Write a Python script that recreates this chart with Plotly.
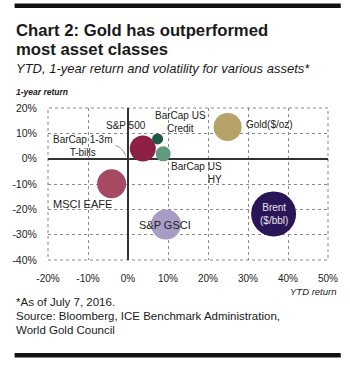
import plotly.graph_objects as go

assets = ["S&P 500", "BarCap 1-3m T-bills", "BarCap US Credit", "BarCap US HY",
          "MSCI EAFE", "S&P GSCI", "Gold($/oz)", "Brent ($/bbl)"]
ytd_return = [3.7, 0.3, 7.4, 8.8, -4.1, 9.5, 24.9, 36.4]
one_year_return = [4.0, 0.3, 7.8, 1.9, -9.9, -26.0, 12.5, -21.8]
volatility = [26, 1, 11, 15, 29, 30, 28, 45]
colors = ["#8E1F45", "#B0B0B0", "#1F5A45", "#5F9A7F", "#A54A60", "#A79CC6", "#B5A36A", "#2A1556"]

x_ticks = [-20, -10, 0, 10, 20, 30, 40, 50]
y_ticks = [20, 10, 0, -10, -20, -30, -40]

font = "Liberation Sans, Arial, sans-serif"

fig = go.Figure()
fig.add_trace(go.Scatter(
    x=ytd_return, y=one_year_return, mode="markers",
    marker=dict(size=volatility, sizemode="diameter", sizeref=1, color=colors,
                opacity=1, line=dict(width=0)),
    hoverinfo="text", text=assets, showlegend=False,
))

lab = dict(showarrow=False, font=dict(family=font, size=10, color="#222"))

fig.add_annotation(x=-0.5, y=13.2, text="S&P 500", xanchor="center", yanchor="middle", **lab)
fig.add_annotation(x=-11.3, y=5.0, text="BarCap 1-3m<br>T-bills", xanchor="center", yanchor="middle", **lab)
fig.add_annotation(x=13.1, y=14.6, text="BarCap US<br>Credit", xanchor="center", yanchor="middle", **lab)
fig.add_annotation(x=17.2, y=-5.6, text="BarCap US<br>HY", xanchor="center", yanchor="middle", align="right", **lab)
fig.add_annotation(x=29.0, y=13.6, text="Gold($/oz)", xanchor="left", yanchor="middle", **lab)
fig.add_annotation(x=-11.3, y=-17.8, text="MSCI EAFE", xanchor="center", yanchor="middle",
                   showarrow=False, font=dict(family=font, size=11, color="#222"))
fig.add_annotation(x=9.3, y=-26.3, text="S&P GSCI", xanchor="center", yanchor="middle",
                   showarrow=False, font=dict(family=font, size=11, color="#222"))
fig.add_annotation(x=36.4, y=-21.8, text="Brent<br>($/bbl)", xanchor="center", yanchor="middle",
                   showarrow=False, font=dict(family=font, size=10, color="#E8E4F0"))

# leader line for T-bills label
fig.add_shape(type="path", path="M -3.2,5.2 Q -1.5,4.8 -0.6,1.2", xref="x", yref="y",
              line=dict(color="#999", width=1))

# dotted border
fig.add_shape(type="rect", x0=0, x1=1, y0=0, y1=1, xref="paper", yref="paper",
              line=dict(color="#888", width=1, dash="dot"), layer="below")

px_w, px_h = 350, 367
l, r, t, b = 44, 21, 108, 107
pw, ph = px_w - l - r, px_h - t - b
def px(xp): return (xp - l) / pw
def py(yp): return (px_h - b - yp) / ph

# top and bottom rules
for y0, y1 in [(3.5, 8), (353, 357.5)]:
    fig.add_shape(type="rect", x0=px(10), x1=px(342), y0=py(y1), y1=py(y0), xref="paper", yref="paper",
                  fillcolor="#111", line=dict(width=0))

fig.update_layout(
    width=350, height=367,
    margin=dict(l=l, r=r, t=t, b=b),
    paper_bgcolor="white", plot_bgcolor="white",
    font=dict(family=font, size=10, color="#222"),
    xaxis=dict(range=[-20, 50], tickvals=x_ticks, ticktext=[f"{v}%" for v in x_ticks],
               showgrid=True, gridcolor="#8a8a8a", griddash="dot", gridwidth=1,
               zeroline=True, zerolinecolor="#333", zerolinewidth=1.5,
               ticks="outside", ticklen=9, tickcolor="rgba(0,0,0,0)",
               tickfont=dict(size=10), fixedrange=True),
    yaxis=dict(range=[-40, 20], tickvals=y_ticks, ticktext=[f"{v}%" for v in y_ticks],
               showgrid=True, gridcolor="#8a8a8a", griddash="dot", gridwidth=1,
               zeroline=True, zerolinecolor="#333", zerolinewidth=1.5,
               ticks="outside", ticklen=8, tickcolor="rgba(0,0,0,0)",
               tickfont=dict(size=10.5), fixedrange=True),
)

def txt(xp, yp, text, size, bold=False, italic=False, xanchor="left"):
    t_ = text
    if bold:
        t_ = f"<b>{t_}</b>"
    if italic:
        t_ = f"<i>{t_}</i>"
    fig.add_annotation(x=px(xp), y=py(yp), xref="paper", yref="paper", text=t_, showarrow=False,
                       xanchor=xanchor, yanchor="middle", font=dict(family=font, size=size, color="#1a1a1a"))

txt(9, 30, "Chart 2: Gold has outperformed", 16.7, bold=True)
txt(9, 49, "most asset classes", 16.7, bold=True)
txt(9, 68, "YTD, 1-year return and volatility for various assets*", 13, italic=True)
txt(9, 92, "1-year return", 8.5, bold=True, italic=True)
txt(339, 291, "YTD return", 9.5, italic=True, xanchor="right")
txt(9, 302, "*As of July 7, 2016.", 11.5)
txt(9, 316, "Source: Bloomberg, ICE Benchmark Administration,", 11.5)
txt(9, 330, "World Gold Council", 11.5)

fig.write_html("out.html")
